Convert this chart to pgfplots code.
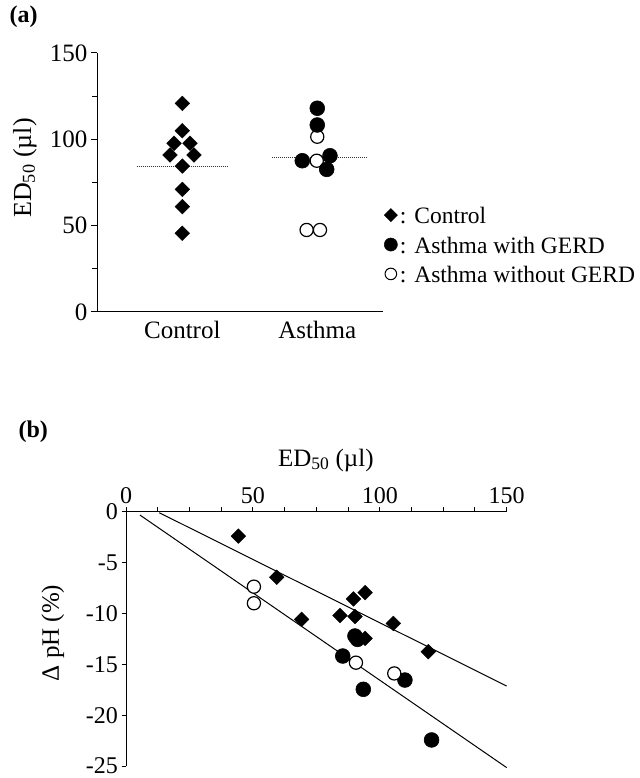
\documentclass[border=0pt]{standalone}
\usepackage{fontspec}
\setmainfont{Liberation Serif}
\usepackage{pgfplots}
\pgfplotsset{compat=1.18}

\pgfplotsset{
    panel/.style={
        scale only axis,
        clip=false,
        axis line style={line width=1pt,-},
        every tick/.style={line width=1pt,black},
        /pgf/number format/assume math mode=true,
    },
    ctrl/.style={only marks, mark=square*, mark size=5.2pt,
        mark options={rotate=45, fill=black, draw=black, line width=0.4pt}},
    gerd/.style={only marks, mark=*, mark size=7.4pt,
        mark options={fill=black, draw=black, line width=0.6pt}},
    nogerd/.style={only marks, mark=*, mark size=6.6pt,
        mark options={fill=white, draw=black, line width=1.2pt}},
}

\begin{document}
\begin{tikzpicture}
\useasboundingbox (0pt,0pt) rectangle (639pt,778pt);

\node[anchor=west, font=\fontsize{24}{28}\selectfont\bfseries] at (6pt,761pt) {(a)};
\node[anchor=west, font=\fontsize{24}{28}\selectfont\bfseries] at (15pt,346pt) {(b)};

% ---- (a) ED50 by group
\begin{axis}[panel,
    at={(97pt,466pt)}, anchor=south west,
    width=286pt, height=259pt,
    xmin=0.368, xmax=2.487, ymin=0, ymax=150,
    axis x line=bottom, axis y line=left,
    axis line style={-},
    tick align=outside,
    xtick={1,2}, xticklabels={Control,Asthma},
    major x tick style={draw=none},
    ytick={0,50,100,150}, minor ytick={25,75,125},
    major tick length=6pt, minor tick length=5pt,
    ticklabel style={font=\fontsize{25}{30}\selectfont},
    ylabel={ED\textsubscript{50} (µl)},
    ylabel style={font=\fontsize{26}{30}\selectfont,
        at={(axis description cs:-0.252,0.556)}, anchor=center},
    legend style={at={(rel axis cs:1.0035,0.418)}, anchor=north west,
        draw=none, fill=none, inner sep=0pt, row sep=7pt,
        font=\fontsize{23.5}{27}\selectfont,
        nodes={inner xsep=2.5pt, inner ysep=1pt}},
    legend cell align=left,
    legend image code/.code={\draw[#1] plot coordinates {(0pt,0pt)};},
]
% group means
\addplot[forget plot, densely dotted, line width=1pt, black!80]
    coordinates {(0.662,84.5) (1.341,84.5)};
\addplot[forget plot, densely dotted, line width=1pt, black!80]
    coordinates {(1.663,89.4) (2.366,89.4)};
% control
\addplot[ctrl, forget plot] coordinates {
    (1,120.8) (1,105) (0.939,97.7) (1.057,97.7) (0.909,90.9)
    (1.087,90.9) (1,84.5) (1,71) (1,61) (1,45.6)
};
% asthma without GERD
\addplot[nogerd, forget plot] coordinates {
    (2,101.5) (1.996,87.6) (1.921,47.5) (2.02,47.5)
};
% asthma with GERD
\addplot[gerd, forget plot] coordinates {
    (2,118) (2,108.3) (1.889,87.6) (2.094,90.5) (2.07,82.6)
};
\addlegendimage{only marks, mark=square*, mark size=4.7pt,
    mark options={rotate=45, fill=black, draw=black}}
\addlegendentry{\strut: Control}
\addlegendimage{only marks, mark=*, mark size=6.6pt,
    mark options={fill=black, draw=black}}
\addlegendentry{\strut: Asthma with GERD}
\addlegendimage{only marks, mark=*, mark size=5.8pt,
    mark options={fill=white, draw=black, line width=1pt}}
\addlegendentry{\strut: Asthma without GERD}
\end{axis}

% ---- (b) change in pH against ED50
\begin{axis}[panel,
    at={(126pt,12pt)}, anchor=south west,
    width=380.7pt, height=254.3pt,
    xmin=0, xmax=150, ymin=-25, ymax=0,
    axis x line=top, axis y line=left,
    axis line style={-},
    tick align=outside,
    xtick={0,50,100,150},
    minor xtick={12.5,25,37.5,62.5,75,87.5,112.5,125,137.5},
    ytick={-25,-20,-15,-10,-5,0},
    major tick length=4.5pt, minor tick length=4.5pt,
    ticklabel style={font=\fontsize{24}{28}\selectfont},
    xlabel={ED\textsubscript{50} (µl)},
    xlabel style={font=\fontsize{25}{30}\selectfont,
        at={(axis description cs:0.525,1.203)}, anchor=center},
    ylabel={Δ pH (\%)},
    ylabel style={font=\fontsize{25}{30}\selectfont,
        at={(axis description cs:-0.192,0.523)}, anchor=center},
]
% regression lines
\addplot[line width=1pt, black] coordinates {(13.1,-0.1) (150,-17.14)};
\addplot[line width=1pt, black] coordinates {(5.5,-0.33) (150,-25.16)};
% control
\addplot[ctrl] coordinates {
    (44.3,-2.4) (59.4,-6.45) (69.2,-10.58) (84.3,-10.2) (89.6,-8.58)
    (90.2,-10.3) (94.2,-12.45) (94.2,-7.96) (105.3,-10.98) (119.1,-13.76)
};
% asthma with GERD
\addplot[gerd] coordinates {
    (85.4,-14.19) (90.2,-12.22) (91.2,-12.55) (93.5,-17.46)
    (109.9,-16.55) (120.4,-22.44)
};
% asthma without GERD
\addplot[nogerd] coordinates {
    (50.4,-7.37) (50.4,-9.0) (90.6,-14.84) (105.7,-15.9)
};
\end{axis}
\end{tikzpicture}
\end{document}
